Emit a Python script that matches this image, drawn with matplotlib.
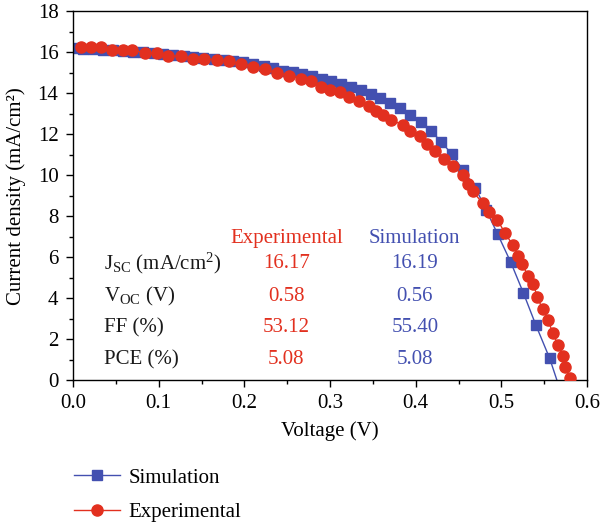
import numpy as np
import matplotlib
matplotlib.use("Agg")
import matplotlib.pyplot as plt
from matplotlib.ticker import MultipleLocator

plt.rcParams['font.family'] = ['Liberation Serif', 'DejaVu Serif']
plt.rcParams['mathtext.fontset'] = 'custom'
plt.rcParams['mathtext.rm'] = 'Liberation Serif'
plt.rcParams['mathtext.it'] = 'Liberation Serif:italic'

# simulated J-V curve (squares)
v_sim = [0.000, 0.012, 0.023, 0.035, 0.047, 0.058, 0.070, 0.082, 0.094, 0.105,
         0.117, 0.129, 0.140, 0.152, 0.164, 0.176, 0.187, 0.199, 0.2105, 0.2230,
         0.2338, 0.2455, 0.2564, 0.2673, 0.2790, 0.2906, 0.3015, 0.3132, 0.3241,
         0.3358, 0.3475, 0.3584, 0.3700, 0.3817, 0.3934, 0.4059, 0.4175, 0.4299,
         0.4420, 0.4549, 0.4696, 0.4821, 0.4957, 0.5109, 0.5256, 0.5404, 0.5564,
         0.565]
j_sim = [16.19, 16.17, 16.14, 16.11, 16.08, 16.05, 16.02, 15.98, 15.94, 15.90,
         15.86, 15.82, 15.78, 15.73, 15.68, 15.63, 15.57, 15.51, 15.44, 15.31,
         15.21, 15.10, 15.02, 14.95, 14.82, 14.71, 14.58, 14.45, 14.30,
         14.14, 13.94, 13.77, 13.54, 13.28, 12.95, 12.58, 12.17, 11.63,
         11.03, 10.27, 9.40, 8.32, 7.13, 5.77, 4.28, 2.69, 1.08,
         0.0]

# experimental J-V curve (circles)
v_exp = [0.009, 0.021, 0.033, 0.046, 0.058, 0.069, 0.084, 0.098, 0.111, 0.126,
         0.140, 0.153, 0.168, 0.182, 0.196, 0.2105, 0.2241, 0.2385, 0.2525,
         0.2661, 0.2774, 0.2891, 0.2999, 0.3117, 0.3225, 0.3342, 0.3459, 0.3537,
         0.3622, 0.3712, 0.3852, 0.3937, 0.4050, 0.4136, 0.4220, 0.4331, 0.4439,
         0.4549, 0.4615, 0.4666, 0.4782, 0.4860, 0.4953, 0.5043, 0.5132, 0.5198,
         0.5237, 0.5314, 0.5373, 0.5420, 0.5482, 0.5548, 0.5599, 0.5665, 0.5716,
         0.5743, 0.5801]
j_exp = [16.23, 16.23, 16.23, 16.09, 16.09, 16.09, 15.96, 15.96, 15.80, 15.80,
         15.67, 15.67, 15.63, 15.54, 15.42, 15.28, 15.15, 14.98, 14.85,
         14.71, 14.58, 14.30, 14.17, 14.04, 13.80, 13.63, 13.36, 13.11,
         12.95, 12.71, 12.43, 12.17, 11.89, 11.50, 11.20, 10.80, 10.43,
         10.01, 9.59, 9.21, 8.64, 8.23, 7.83, 7.18, 6.61, 6.07,
         5.68, 5.11, 4.71, 4.06, 3.47, 2.95, 2.30, 1.73, 1.20,
         0.67, 0.11]

row_labels = ['J$_{\\mathrm{SC}}$ (mA/cm$^{2}$)', 'V$_{\\mathrm{OC}}$ (V)', 'FF (%)', 'PCE (%)']
exp_values = ['16.17', '0.58', '53.12', '5.08']
sim_values = ['16.19', '0.56', '55.40', '5.08']

blue = '#4350b0'
red = '#e2301f'
fs = 15

fig = plt.figure(figsize=(6.01, 5.28), dpi=100)
ax = fig.add_axes([0.1215, 0.2794, 0.8552, 0.6998])

ax.plot(v_sim, j_sim, color=blue, lw=1.0, marker='s', ms=6.5, mec=blue, mfc=blue,
        markevery=list(range(len(v_sim) - 1)), label='Simulation', zorder=2)
ax.plot(v_exp, j_exp, color=red, lw=1.0, marker='o', ms=8, mec=red, mfc=red,
        label='Experimental', zorder=3)

ax.set_xlim(0, 0.6)
ax.set_ylim(0, 18)
ax.xaxis.set_major_locator(MultipleLocator(0.1))
ax.xaxis.set_minor_locator(MultipleLocator(0.05))
ax.yaxis.set_major_locator(MultipleLocator(2))
ax.yaxis.set_minor_locator(MultipleLocator(1))
ax.xaxis.set_major_formatter(plt.FormatStrFormatter('%.1f'))
ax.tick_params(which='major', direction='out', length=5, width=1, labelsize=fs)
ax.tick_params(which='minor', direction='out', length=3, width=1)
ax.tick_params(axis='x', which='major', pad=4.5)
ax.tick_params(axis='y', which='major', pad=5.5)
for s in ax.spines.values():
    s.set_linewidth(1.0)

ax.set_xlabel('Voltage (V)', fontsize=fs, labelpad=6)
ax.set_ylabel('Current density (mA/cm²)', fontsize=fs, labelpad=8)

# parameter table
ys = [5.68, 4.07, 2.56, 1.0]
ax.text(0.249, 6.9, 'Experimental', color=red, fontsize=fs, ha='center', va='center')
ax.text(0.399, 6.9, 'Simulation', color=blue, fontsize=fs, ha='center', va='center')
for y, lab, e, s in zip(ys, row_labels, exp_values, sim_values):
    ax.text(0.036, y, lab, color='#1a1a1a', fontsize=fs, ha='left', va='center')
    ax.text(0.249, y, e, color=red, fontsize=fs, ha='center', va='center')
    ax.text(0.399, y, s, color=blue, fontsize=fs, ha='center', va='center')

fig.legend(loc='center left', bbox_to_anchor=(0.092, 0.0625), frameon=False,
           fontsize=fs, handlelength=2.2, labelspacing=0.7, handletextpad=0.4)

fig.savefig('out.png', dpi=100)
